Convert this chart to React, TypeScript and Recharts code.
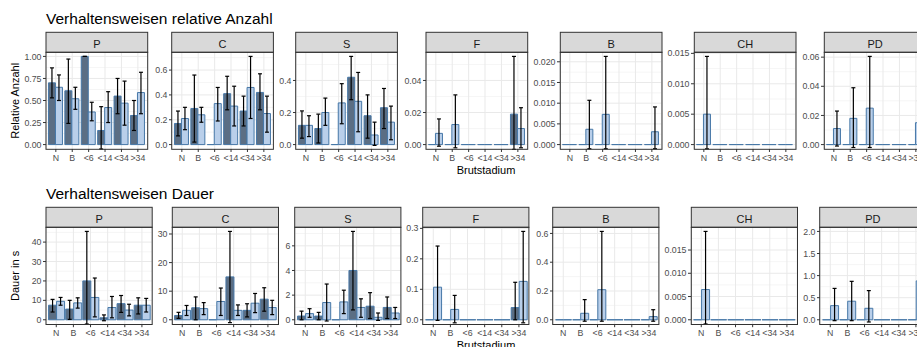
import React from "react";
import { BarChart, Bar, XAxis, YAxis, CartesianGrid, ErrorBar } from "recharts";

// Brutstadien (x categories)
const stages = ["N", "B", "<6", "<14", "<34", ">34"];

// Each entry: [mean, lower bound, upper bound] per Brutstadium; "a" = dark series, "b" = light series

// Verhaltensweisen relative Anzahl
const anzahlP_a = [[0.70, 0.53, 0.87], [0.61, 0.24, 0.97], [1.0, 1.0, 1.0], [0.16, -0.05, 0.43], [0.55, 0.35, 0.75], [0.33, 0.16, 0.50]];
const anzahlP_b = [[0.65, 0.50, 0.79], [0.52, 0.40, 0.65], [0.37, 0.27, 0.48], [0.42, 0.25, 0.60], [0.47, 0.22, 0.72], [0.59, 0.35, 0.82]];
const anzahlC_a = [[0.17, 0.07, 0.27], [0.29, 0.02, 0.56], [0, 0, 0], [0.41, 0.28, 0.55], [0.27, 0.15, 0.39], [0.42, 0.28, 0.57]];
const anzahlC_b = [[0.21, 0.12, 0.30], [0.24, 0.18, 0.30], [0.33, 0.19, 0.46], [0.31, 0.15, 0.47], [0.46, 0.21, 0.71], [0.25, 0.10, 0.39]];
const anzahlS_a = [[0.12, 0.04, 0.21], [0.10, 0.01, 0.19], [0, 0, 0], [0.42, 0.28, 0.55], [0.18, 0.04, 0.31], [0.23, 0.10, 0.35]];
const anzahlS_b = [[0.12, 0.05, 0.18], [0.20, 0.12, 0.29], [0.26, 0.13, 0.38], [0.27, 0.08, 0.45], [0.06, -0.005, 0.14], [0.14, 0.03, 0.24]];
const anzahlF_a = [[0, 0, 0], [0, 0, 0], [0, 0, 0], [0, 0, 0], [0, 0, 0], [0.019, -0.003, 0.055]];
const anzahlF_b = [[0.007, -0.001, 0.016], [0.0125, -0.002, 0.031], [0, 0, 0], [0, 0, 0], [0, 0, 0], [0.010, -0.002, 0.023]];
const anzahlB_a = [[0, 0, 0], [0, 0, 0], [0, 0, 0], [0, 0, 0], [0, 0, 0], [0, 0, 0]];
const anzahlB_b = [[0, 0, 0], [0.0037, -0.001, 0.0107], [0.0073, -0.001, 0.0213], [0, 0, 0], [0, 0, 0], [0.0031, -0.001, 0.0091]];
const anzahlCH_a = [[0, 0, 0], [0, 0, 0], [0, 0, 0], [0, 0, 0], [0, 0, 0], [0, 0, 0]];
const anzahlCH_b = [[0.005, -0.0007, 0.0145], [0, 0, 0], [0, 0, 0], [0, 0, 0], [0, 0, 0], [0, 0, 0]];
const anzahlPD_a = [[0, 0, 0], [0, 0, 0], [0, 0, 0], [0, 0, 0], [0, 0, 0], [0, 0, 0]];
const anzahlPD_b = [[0.011, -0.001, 0.023], [0.018, -0.002, 0.039], [0.025, -0.002, 0.0605], [0, 0, 0], [0, 0, 0], [0.015, 0.002, 0.03]];

// Verhaltensweisen Dauer (s)
const dauerP_a = [[7.5, 4, 10.5], [5.5, 0.2, 10], [20, -2.2, 45.5], [1.0, -0.5, 2.5], [8.3, 3.8, 12.5], [7.5, 3, 11.3]];
const dauerP_b = [[9.5, 7.5, 11.5], [8.7, 6, 11.3], [11.5, 1.5, 21.5], [6.3, 1, 12], [5, 2, 8], [7.5, 4, 11]];
const dauerC_a = [[1.5, 0.5, 2.6], [4.2, 0, 8], [0, 0, 0], [15, -1, 30.9], [3.3, 1, 5.6], [7.2, 3, 11.2]];
const dauerC_b = [[3.3, 1.5, 5], [3.9, 1.8, 6], [6.4, 1.5, 11.1], [3.3, 1.5, 5.2], [5.8, 2.5, 9.2], [4.3, 1.8, 6.8]];
const dauerS_a = [[0.3, 0, 0.7], [0.3, 0, 0.6], [0, 0, 0], [4.0, 0.8, 7.17], [1.1, 0.1, 2.2], [1.0, 0.1, 1.85]];
const dauerS_b = [[0.5, 0.2, 0.9], [1.4, -0.1, 2.9], [1.45, 0.5, 2.4], [1.0, 0.2, 1.7], [0.2, -0.05, 0.55], [0.55, 0.1, 1.0]];
const dauerF_a = [[0, 0, 0], [0, 0, 0], [0, 0, 0], [0, 0, 0], [0, 0, 0], [0.04, 0, 0.123]];
const dauerF_b = [[0.107, -0.002, 0.242], [0.034, -0.01, 0.08], [0, 0, 0], [0, 0, 0], [0, 0, 0], [0.126, -0.01, 0.29]];
const dauerB_a = [[0, 0, 0], [0, 0, 0], [0, 0, 0], [0, 0, 0], [0, 0, 0], [0, 0, 0]];
const dauerB_b = [[0, 0, 0], [0.045, -0.01, 0.14], [0.209, -0.01, 0.614], [0, 0, 0], [0, 0, 0], [0.022, -0.01, 0.07]];
const dauerCH_a = [[0, 0, 0], [0, 0, 0], [0, 0, 0], [0, 0, 0], [0, 0, 0], [0, 0, 0]];
const dauerCH_b = [[0.0065, -0.0009, 0.019], [0, 0, 0], [0, 0, 0], [0, 0, 0], [0, 0, 0], [0, 0, 0]];
const dauerPD_a = [[0, 0, 0], [0, 0, 0], [0, 0, 0], [0, 0, 0], [0, 0, 0], [0, 0, 0]];
const dauerPD_b = [[0.32, -0.02, 0.71], [0.42, -0.02, 0.87], [0.26, -0.05, 0.66], [0, 0, 0], [0, 0, 0], [0.88, 0.3, 2.0]];

// Y tick labels per facet
const anzahlP_ticks = ["0.00", "0.25", "0.50", "0.75", "1.00"];
const anzahlC_ticks = ["0.0", "0.2", "0.4", "0.6"];
const anzahlS_ticks = ["0.0", "0.2", "0.4"];
const anzahlF_ticks = ["0.00", "0.02", "0.04"];
const anzahlB_ticks = ["0.000", "0.005", "0.010", "0.015", "0.020"];
const anzahlCH_ticks = ["0.000", "0.005", "0.010", "0.015"];
const anzahlPD_ticks = ["0.00", "0.02", "0.04", "0.06"];
const dauerP_ticks = ["0", "10", "20", "30", "40"];
const dauerC_ticks = ["0", "10", "20", "30"];
const dauerS_ticks = ["0", "2", "4", "6"];
const dauerF_ticks = ["0.0", "0.1", "0.2", "0.3"];
const dauerB_ticks = ["0.0", "0.2", "0.4", "0.6"];
const dauerCH_ticks = ["0.000", "0.005", "0.010", "0.015"];
const dauerPD_ticks = ["0.0", "0.5", "1.0", "1.5", "2.0"];

const anzahlFacets = [
  { name: "P", a: anzahlP_a, b: anzahlP_b, ticks: anzahlP_ticks },
  { name: "C", a: anzahlC_a, b: anzahlC_b, ticks: anzahlC_ticks },
  { name: "S", a: anzahlS_a, b: anzahlS_b, ticks: anzahlS_ticks },
  { name: "F", a: anzahlF_a, b: anzahlF_b, ticks: anzahlF_ticks },
  { name: "B", a: anzahlB_a, b: anzahlB_b, ticks: anzahlB_ticks },
  { name: "CH", a: anzahlCH_a, b: anzahlCH_b, ticks: anzahlCH_ticks },
  { name: "PD", a: anzahlPD_a, b: anzahlPD_b, ticks: anzahlPD_ticks },
];
const dauerFacets = [
  { name: "P", a: dauerP_a, b: dauerP_b, ticks: dauerP_ticks },
  { name: "C", a: dauerC_a, b: dauerC_b, ticks: dauerC_ticks },
  { name: "S", a: dauerS_a, b: dauerS_b, ticks: dauerS_ticks },
  { name: "F", a: dauerF_a, b: dauerF_b, ticks: dauerF_ticks },
  { name: "B", a: dauerB_a, b: dauerB_b, ticks: dauerB_ticks },
  { name: "CH", a: dauerCH_a, b: dauerCH_b, ticks: dauerCH_ticks },
  { name: "PD", a: dauerPD_a, b: dauerPD_b, ticks: dauerPD_ticks },
];

// Layout of the two facet rows
const FONT = '"Liberation Sans", Arial, Helvetica, sans-serif';
const STRIP_H = 20;
const AXIS_W = 45;
const TOP_PAD = 8;
const anzahlRow = { top: 52.3, height: 97, width: 101.7, lefts: [46, 171.7, 295.7, 426, 560.3, 694.3, 824.3] };
const dauerRow = { top: 227.3, height: 97.2, width: 106.2, lefts: [46, 172.3, 294.7, 422.7, 552.7, 691.3, 819.7] };

const DARK_FILL = "#5b6e84";
const LIGHT_FILL = "#b9cfea";
const BAR_STROKE = "#4677a8";

const toErr = (t: number[]) =>
  t[0] === 0 && t[1] === 0 && t[2] === 0 ? null : [t[0] - t[1], t[2] - t[0]];

// Bar outline drawn as a path so zero-height bars still show their outline at the baseline
function BarShape(props: any) {
  const { x, y, width, height, fill } = props;
  if (x == null || y == null || !width) return null;
  const h = height || 0;
  return (
    <path
      d={`M${x},${y}h${width}v${h}h${-width}Z`}
      fill={fill}
      stroke={BAR_STROKE}
      strokeWidth={1}
    />
  );
}

function FacetChart({ facet, left, top, width, height }: any) {
  const rows = stages.map((s, i) => ({
    stage: s,
    a: facet.a[i][0],
    b: facet.b[i][0],
    errA: toErr(facet.a[i]),
    errB: toErr(facet.b[i]),
  }));
  const tickValues = facet.ticks.map(Number);
  const maxVal = Math.max(
    ...facet.a.map((t: number[]) => Math.max(t[0], t[2])),
    ...facet.b.map((t: number[]) => Math.max(t[0], t[2]))
  );
  const domain = [-0.05 * maxVal, 1.05 * maxVal];
  const step = tickValues[1] - tickValues[0];
  const minors: number[] = [];
  for (let k = -1; k < tickValues.length; k++) {
    const m = tickValues[0] + (k + 0.5) * step;
    if (m > domain[0] && m < domain[1]) minors.push(m);
  }
  const pad = width / 62;
  const fmt = (v: number) =>
    facet.ticks.find((l: string) => Math.abs(Number(l) - v) < 1e-9) ?? String(v);

  return (
    <div style={{ position: "absolute", left: left - AXIS_W, top: top - TOP_PAD }}>
      <BarChart
        width={AXIS_W + width}
        height={height + 24 + TOP_PAD}
        data={rows}
        margin={{ top: TOP_PAD, right: 0, bottom: 0, left: 0 }}
        barCategoryGap="5%"
        barGap={0}
      >
        <CartesianGrid vertical={false} horizontalValues={minors} stroke="#f0f0f0" strokeWidth={0.7} />
        <CartesianGrid horizontalValues={tickValues} stroke="#e9e9e9" strokeWidth={1} />
        <XAxis
          dataKey="stage"
          padding={{ left: pad, right: pad }}
          height={24}
          axisLine={false}
          tickLine={{ stroke: "#333333" }}
          tickSize={3}
          tickMargin={2.5}
          interval={0}
          tick={{ fill: "#4d4d4d", fontSize: 8.8 }}
        />
        <YAxis
          type="number"
          domain={domain}
          allowDataOverflow
          ticks={tickValues}
          interval={0}
          width={AXIS_W}
          axisLine={false}
          tickLine={{ stroke: "#333333" }}
          tickSize={3}
          tickMargin={1.5}
          tickFormatter={fmt}
          tick={{ fill: "#4d4d4d", fontSize: 8.8 }}
        />
        <Bar dataKey="a" fill={DARK_FILL} shape={BarShape} isAnimationActive={false}>
          <ErrorBar dataKey="errA" width={2} stroke="#000" strokeWidth={1.2} direction="y" />
        </Bar>
        <Bar dataKey="b" fill={LIGHT_FILL} shape={BarShape} isAnimationActive={false}>
          <ErrorBar dataKey="errB" width={2} stroke="#000" strokeWidth={1.2} direction="y" />
        </Bar>
      </BarChart>
    </div>
  );
}

function Frames({ facets, row }: any) {
  return (
    <>
      {facets.map((f: any, i: number) => {
        const x = row.lefts[i];
        return (
          <g key={f.name}>
            <rect x={x} y={row.top - STRIP_H} width={row.width} height={STRIP_H} fill="#d9d9d9" stroke="#333333" strokeWidth={1} />
            <text x={x + row.width / 2} y={row.top - STRIP_H + 15.4} textAnchor="middle" fontSize={11} fill="#1a1a1a">
              {f.name}
            </text>
            <rect x={x} y={row.top} width={row.width} height={row.height} fill="none" stroke="#333333" strokeWidth={1} />
          </g>
        );
      })}
    </>
  );
}

export default function App() {
  return (
    <div
      style={{
        position: "absolute",
        left: 0,
        top: 0,
        width: 917,
        height: 347,
        overflow: "hidden",
        background: "#ffffff",
        fontFamily: FONT,
      }}
    >
      {anzahlFacets.map((f, i) => (
        <FacetChart key={"a" + f.name} facet={f} left={anzahlRow.lefts[i]} top={anzahlRow.top} width={anzahlRow.width} height={anzahlRow.height} />
      ))}
      {dauerFacets.map((f, i) => (
        <FacetChart key={"d" + f.name} facet={f} left={dauerRow.lefts[i]} top={dauerRow.top} width={dauerRow.width} height={dauerRow.height} />
      ))}
      <svg
        width={917}
        height={347}
        style={{ position: "absolute", left: 0, top: 0, pointerEvents: "none", fontFamily: FONT }}
      >
        <Frames facets={anzahlFacets} row={anzahlRow} />
        <Frames facets={dauerFacets} row={dauerRow} />
        <text x={46} y={24} fontSize={15.5} fill="#000">Verhaltensweisen relative Anzahl</text>
        <text x={46} y={199} fontSize={15.5} fill="#000">Verhaltensweisen Dauer</text>
        <text x={19.5} y={100.8} fontSize={11} fill="#000" textAnchor="middle" transform="rotate(-90 19.5 100.8)">Relative Anzahl</text>
        <text x={19.5} y={275.9} fontSize={11} fill="#000" textAnchor="middle" transform="rotate(-90 19.5 275.9)">Dauer in s</text>
        <text x={486} y={174} fontSize={11} fill="#000" textAnchor="middle">Brutstadium</text>
        <text x={486} y={349} fontSize={11} fill="#000" textAnchor="middle">Brutstadium</text>
      </svg>
    </div>
  );
}
